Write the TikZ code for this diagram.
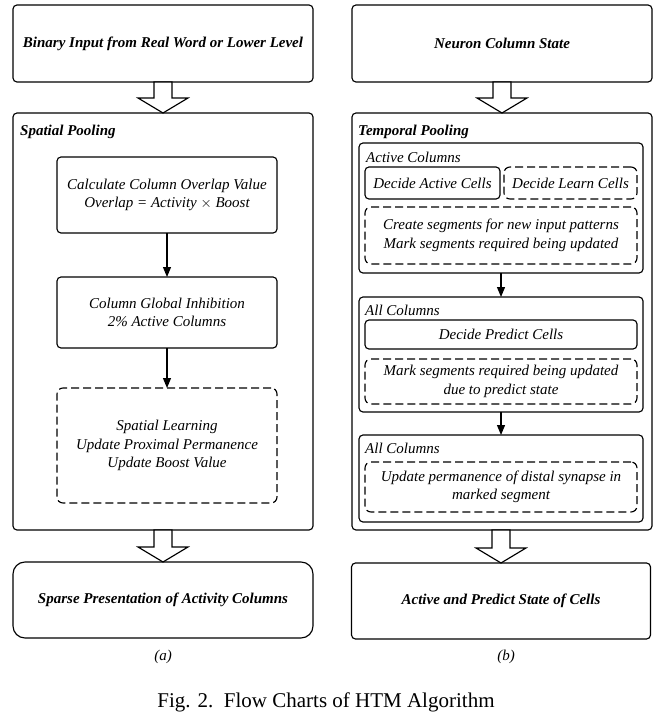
\documentclass[tikz,border=0pt]{standalone}
\usepackage{fontspec}
\setmainfont{Liberation Serif}
\usetikzlibrary{arrows.meta,calc}
\newcommand\blockarrow[2]{%
  \draw[big] ($(#2.north |- #1.south)+(-9,0)$) -- ([xshift=-9pt,yshift=15pt]#2.north)
    -- ([xshift=-25pt,yshift=15pt]#2.north) -- (#2.north)
    -- ([xshift=25pt,yshift=15pt]#2.north) -- ([xshift=9pt,yshift=15pt]#2.north)
    -- ($(#2.north |- #1.south)+(9,0)$) -- cycle;}
\begin{document}
\begin{tikzpicture}[x=1pt,y=-1pt,
  box/.style={draw, line width=1.15pt, rounded corners=4pt, inner sep=0pt, outer sep=0pt,
    align=center, font=\fontsize{15}{18.5}\selectfont\itshape},
  dbox/.style={box, dash pattern=on 8pt off 4pt, rounded corners=6pt},
  hbox/.style={box, font=\fontsize{15}{18.5}\selectfont\bfseries\itshape},
  lbl/.style={anchor=base west, inner sep=0pt, font=\fontsize{15}{18}\selectfont\itshape},
  hlbl/.style={lbl, font=\fontsize{15}{18}\selectfont\bfseries\itshape},
  arr/.style={-{Triangle[length=10pt,width=8pt]}, line width=1.15pt},
  big/.style={draw, line width=1.15pt, fill=white, line join=miter}
]
\useasboundingbox[fill=white] (0,0) rectangle (659,720);

% ---------- left chart ----------
\node[hbox, minimum width=300pt, minimum height=77pt] (tl) at (163,43.5)
  {Binary Input from Real Word or Lower Level};
\node[box, minimum width=300pt, minimum height=417pt] (sp) at (163,321.5) {};
\node[hlbl] (spl) at (20,135.5) {Spatial Pooling};
\node[box, minimum width=220pt, minimum height=76pt] (c1) at (167,195)
  {Calculate Column Overlap Value\\Overlap = Activity $\times$ Boost};
\node[box, minimum width=220pt, minimum height=71pt] (c2) at (167,312.5)
  {Column Global Inhibition\\2\% Active Columns};
\node[dbox, minimum width=220pt, minimum height=115pt] (c3) at (167,445.5)
  {Spatial Learning\\Update Proximal Permanence\\Update Boost Value};
\node[hbox, rounded corners=12pt, minimum width=300pt, minimum height=76pt] (bl) at (163,600)
  {Sparse Presentation of Activity Columns};
\draw[arr] (c1) -- (c2);
\draw[arr] (c2) -- (c3);
\blockarrow{tl}{sp}
\blockarrow{sp}{bl}
\node[font=\fontsize{15}{18}\selectfont\itshape] (la) at (163,657) {(a)};

% ---------- right chart ----------
\node[hbox, minimum width=300pt, minimum height=77pt] (tr) at (502,43.5)
  {Neuron Column State};
\node[box, minimum width=300pt, minimum height=417pt] (tp) at (502,321.5) {};
\node[hlbl] (tpl) at (358,135.5) {Temporal Pooling};

\node[box, minimum width=284pt, minimum height=130pt] (ac) at (501,208) {};
\node[lbl] (acl) at (366,162) {Active Columns};
\node[box, minimum width=135pt, minimum height=32pt] (dac) at (432.5,183) {Decide Active Cells};
\node[dbox, minimum width=133pt, minimum height=32pt] (dlc) at (570.5,183) {Decide Learn Cells};
\node[dbox, minimum width=272pt, minimum height=57pt] (cs) at (501,235.5)
  {Create segments for new input patterns\\Mark segments required being updated};

\node[box, minimum width=284pt, minimum height=115pt] (a1) at (501,354.5) {};
\node[lbl] (a1l) at (365,315) {All Columns};
\node[box, minimum width=272pt, minimum height=29pt] (dpc) at (501,334.5) {Decide Predict Cells};
\node[dbox, minimum width=272pt, minimum height=45pt] (ms) at (501,381.5)
  {Mark segments required being updated\\due to predict state};

\node[box, minimum width=284pt, minimum height=87pt] (a2) at (501,478.5) {};
\node[lbl] (a2l) at (365,453) {All Columns};
\node[dbox, minimum width=272pt, minimum height=50pt] (up) at (501,487)
  {Update permanence of distal synapse in\\marked segment};

\node[hbox, minimum width=299pt, minimum height=76pt] (br) at (501,601)
  {Active and Predict State of Cells};
\draw[arr] (ac) -- (a1);
\draw[arr] (a1) -- (a2);
\blockarrow{tr}{tp}
\blockarrow{tp}{br}
\node[font=\fontsize{15}{18}\selectfont\itshape] (lb) at (506,657) {(b)};

% ---------- caption ----------
\node[font=\fontsize{21}{24}\selectfont] (cap) at (326,702) {Fig. 2.\ \ Flow Charts of HTM Algorithm};
\end{tikzpicture}
\end{document}
